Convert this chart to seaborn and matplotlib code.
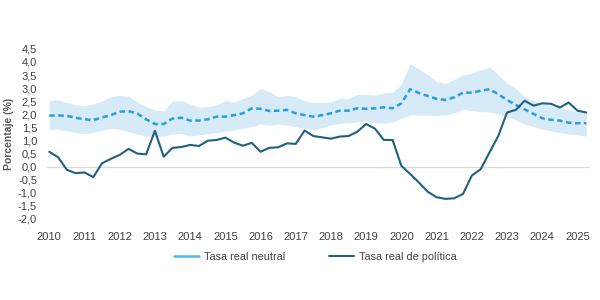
import numpy as np
import pandas as pd
import matplotlib
matplotlib.use("Agg")
import matplotlib.pyplot as plt
import seaborn as sns
from matplotlib.lines import Line2D
from matplotlib.ticker import FuncFormatter

# Quarterly data 2010Q1 - 2025Q2
quarters = pd.period_range("2010Q1", "2025Q2", freq="Q")

neutral = [1.95, 1.96, 1.94, 1.87, 1.81, 1.78, 1.88, 1.97, 2.10, 2.12,
           2.03, 1.81, 1.63, 1.63, 1.84, 1.87, 1.76, 1.76, 1.81, 1.91,
           1.91, 1.97, 2.04, 2.23, 2.21, 2.13, 2.14, 2.17, 2.04, 1.97,
           1.91, 1.97, 2.04, 2.14, 2.14, 2.23, 2.21, 2.23, 2.27, 2.23,
           2.42, 2.96, 2.81, 2.70, 2.59, 2.55, 2.65, 2.83, 2.83, 2.90,
           2.96, 2.77, 2.55, 2.36, 2.19, 2.02, 1.85, 1.79, 1.76, 1.68,
           1.66, 1.66]

neutral_upper = [2.52, 2.55, 2.45, 2.36, 2.32, 2.40, 2.51, 2.67, 2.73, 2.69,
                 2.47, 2.29, 2.17, 2.13, 2.51, 2.52, 2.40, 2.27, 2.29, 2.36,
                 2.52, 2.47, 2.61, 2.73, 2.99, 2.86, 2.67, 2.73, 2.67, 2.52,
                 2.45, 2.45, 2.47, 2.61, 2.61, 2.76, 2.77, 2.73, 2.82, 2.84,
                 3.15, 3.95, 3.72, 3.51, 3.25, 3.18, 3.34, 3.51, 3.57, 3.70,
                 3.80, 3.51, 3.18, 2.99, 2.67, 2.52, 2.40, 2.32, 2.23, 2.17,
                 2.10, 2.10]

neutral_lower = [1.40, 1.43, 1.36, 1.30, 1.27, 1.30, 1.40, 1.46, 1.43, 1.34,
                 1.25, 1.17, 1.15, 1.17, 1.25, 1.27, 1.17, 1.21, 1.27, 1.30,
                 1.37, 1.40, 1.46, 1.53, 1.63, 1.59, 1.62, 1.59, 1.53, 1.46,
                 1.43, 1.49, 1.59, 1.66, 1.68, 1.72, 1.75, 1.68, 1.66, 1.71,
                 1.85, 1.97, 1.97, 1.97, 1.96, 1.97, 2.06, 2.19, 2.14, 2.10,
                 2.10, 2.01, 1.91, 1.78, 1.63, 1.53, 1.43, 1.37, 1.30, 1.25,
                 1.21, 1.17]

policy = [0.57, 0.36, -0.12, -0.25, -0.22, -0.40, 0.13, 0.30, 0.45, 0.68,
          0.50, 0.47, 1.37, 0.38, 0.72, 0.75, 0.83, 0.79, 0.99, 1.02,
          1.11, 0.92, 0.80, 0.91, 0.57, 0.72, 0.74, 0.89, 0.87, 1.38,
          1.17, 1.12, 1.07, 1.15, 1.17, 1.34, 1.63, 1.45, 1.02, 1.02,
          0.03, -0.28, -0.61, -0.96, -1.17, -1.23, -1.21, -1.04, -0.34, -0.10,
          0.54, 1.17, 2.07, 2.17, 2.52, 2.33, 2.42, 2.40, 2.26, 2.45,
          2.14, 2.07]

year_ticks = list(range(2010, 2026))
y_ticks = [-2.0, -1.5, -1.0, -0.5, 0.0, 0.5, 1.0, 1.5, 2.0, 2.5, 3.0, 3.5, 4.0, 4.5]

labels = ["Tasa real neutral", "Tasa real de política"]

t = quarters.year + (quarters.quarter - 1) / 4.0
df = pd.DataFrame({"t": t, "neutral": neutral, "upper": neutral_upper,
                   "lower": neutral_lower, "policy": policy})

sns.set_theme(style="white")
plt.rcParams["font.family"] = ["Liberation Sans", "DejaVu Sans"]

c_band = "#d6eaf7"
c_neutral = "#2a9fdc"
c_policy = "#22607f"
c_text = "#404040"

fig = plt.figure(figsize=(6, 3), dpi=100)
ax = fig.add_axes([0.078, 0.27, 0.905, 0.567])

ax.fill_between(df["t"], df["lower"], df["upper"], color=c_band, lw=0)
ax.axhline(0, color="#d9d9d9", lw=0.9, zorder=1)
sns.lineplot(data=df, x="t", y="neutral", ax=ax, color=c_neutral,
             linestyle=(0, (2.2, 1.4)), lw=1.8)
sns.lineplot(data=df, x="t", y="policy", ax=ax, color=c_policy, lw=1.5)

ax.set_xlim(2009.93, 2025.35)
ax.set_ylim(-2.0, 4.5)
ax.set_xticks(year_ticks)
ax.set_yticks(y_ticks)
ax.yaxis.set_major_formatter(FuncFormatter(lambda v, p: f"{v:.1f}".replace(".", ",")))
ax.tick_params(axis="both", length=0, labelsize=8, colors=c_text)
ax.tick_params(axis="x", pad=9)
ax.tick_params(axis="y", pad=7)
for s in ax.spines.values():
    s.set_visible(False)
ax.set_xlabel("")
ax.set_ylabel("Porcentaje (%)", fontsize=7.5, color="#595959", fontweight="bold", labelpad=3)

handles = [Line2D([], [], color="#4fb8ec", lw=1.8),
           Line2D([], [], color=c_policy, lw=1.5)]
fig.legend(handles, labels, loc="center", bbox_to_anchor=(0.526, 0.145), ncol=2,
           frameon=False, fontsize=7.8, handlelength=2.3, columnspacing=4.0,
           labelcolor=c_text, handletextpad=0.5)

fig.savefig("out.png", dpi=100)
